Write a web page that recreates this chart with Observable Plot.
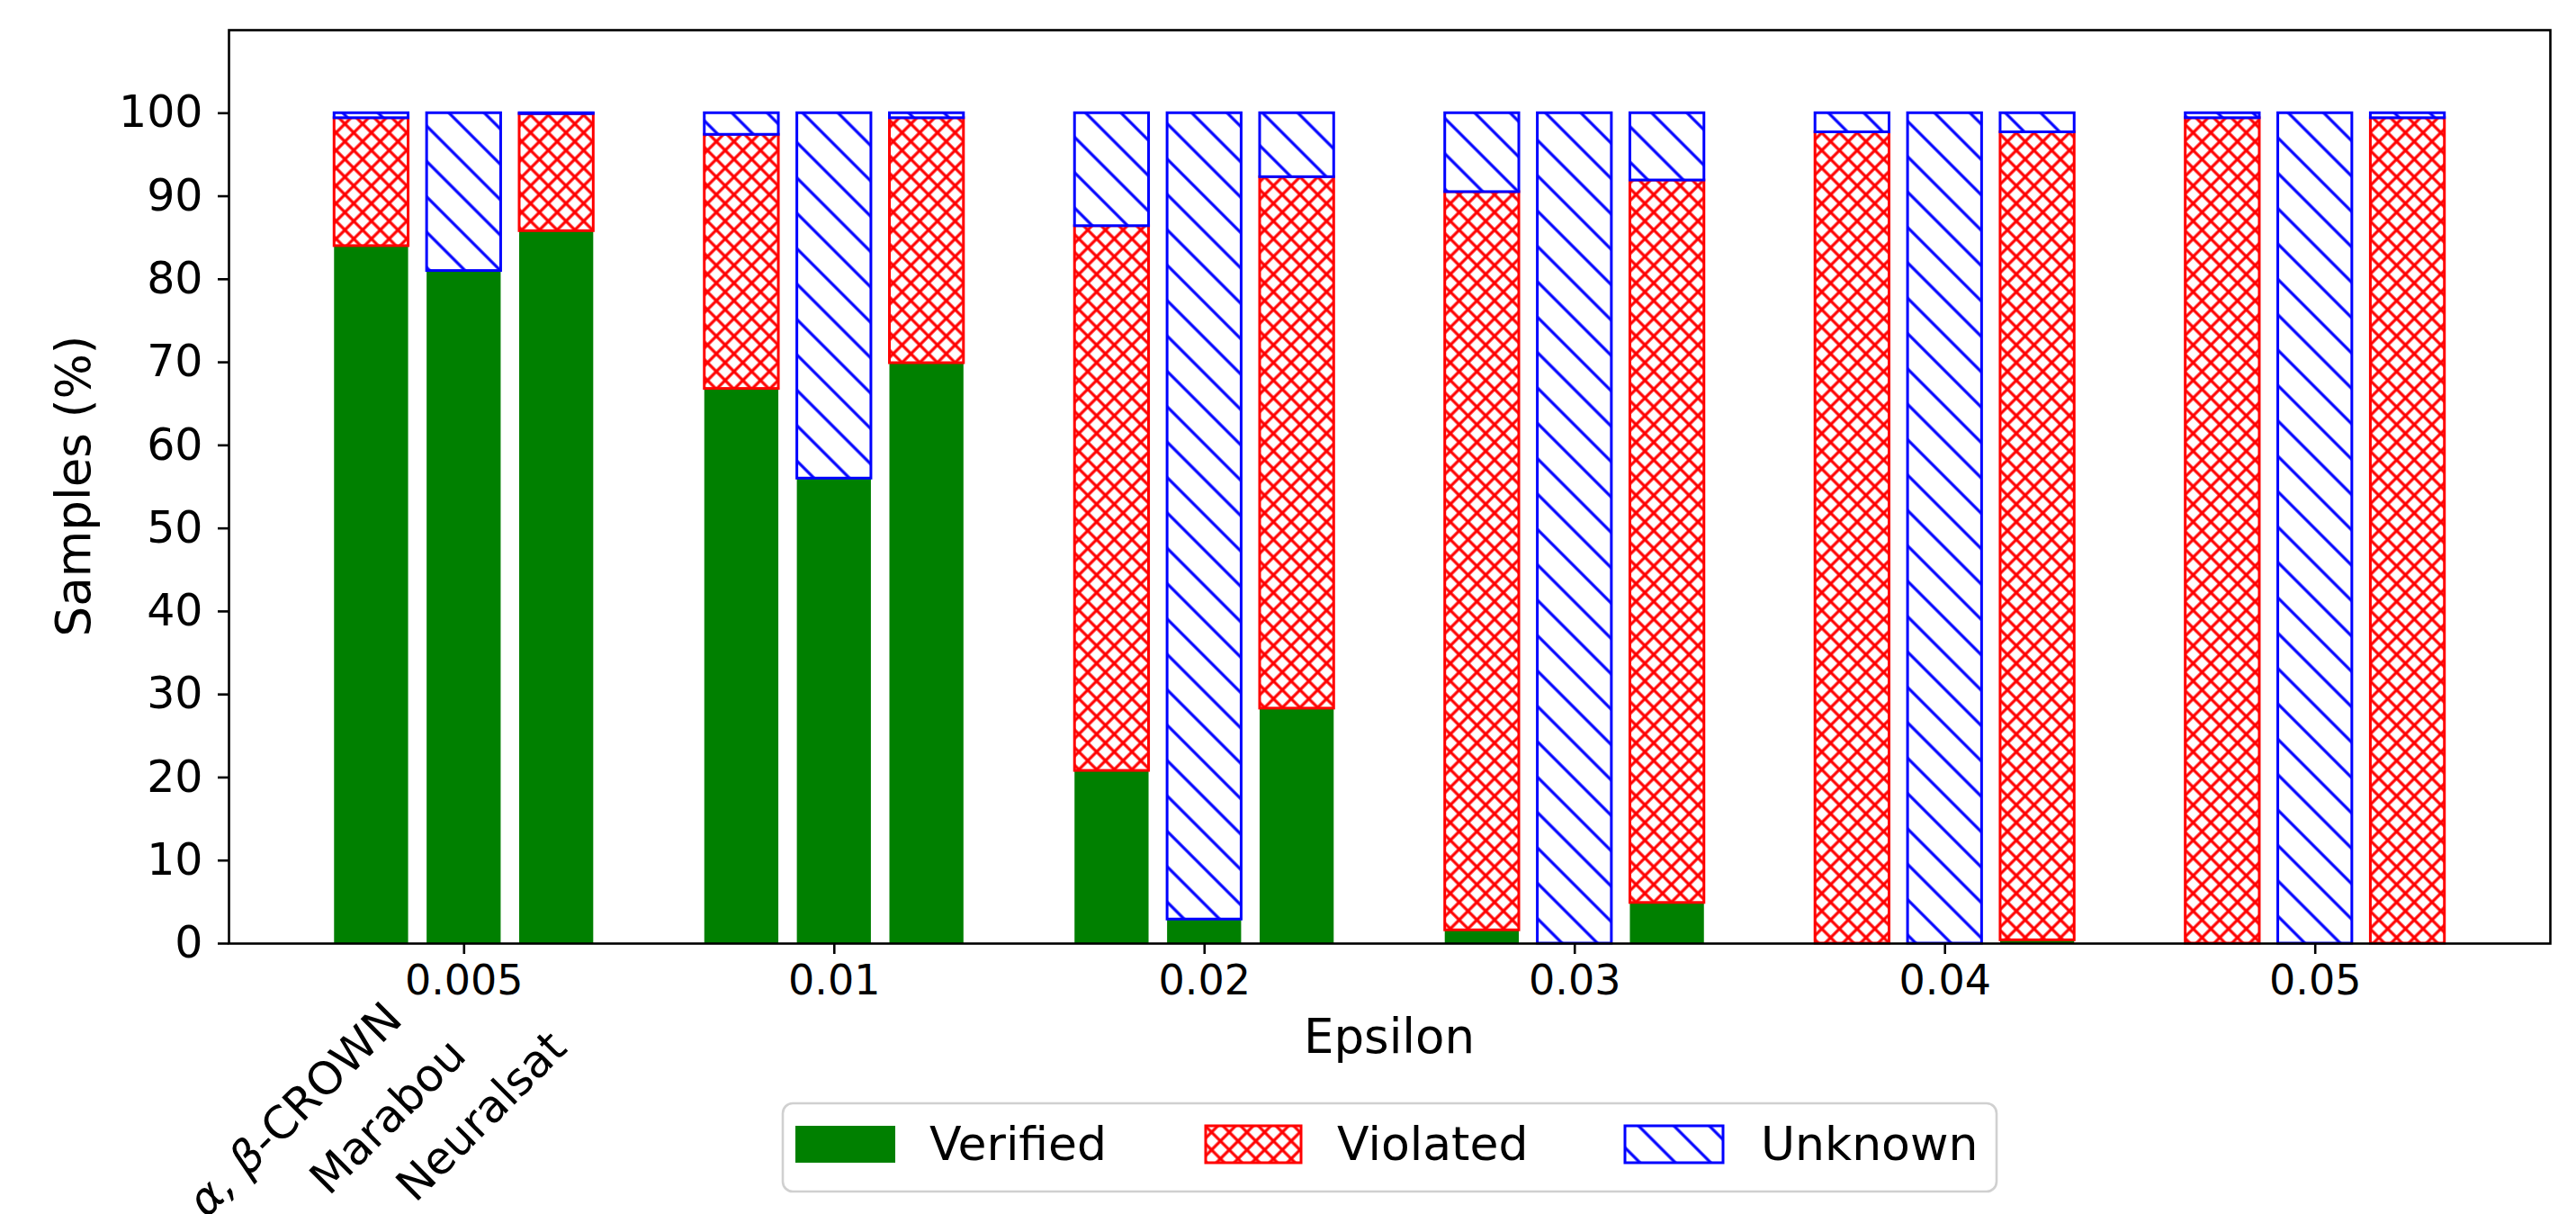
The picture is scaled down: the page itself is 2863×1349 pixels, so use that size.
<!DOCTYPE html>
<html>
<head>
<meta charset="utf-8">
<script src="https://cdn.jsdelivr.net/npm/d3@7"></script>
<script src="https://cdn.jsdelivr.net/npm/@observablehq/plot@0.6"></script>
<style>
  html, body { margin: 0; padding: 0; background: #ffffff; }
  svg { display: block; }
</style>
</head>
<body>
<div id="chart"></div>
<script>
// ---- data (percent of samples) ----
const epsilons = ["0.005", "0.01", "0.02", "0.03", "0.04", "0.05"];
const methods = ["α, β-CROWN", "Marabou", "Neuralsat"];
const statuses = ["Verified", "Violated", "Unknown"];

const verifiedCrown     = [84.0, 66.8, 20.8, 1.6, 0.0, 0.0];
const verifiedMarabou   = [81.0, 56.0, 2.9, 0.0, 0.0, 0.0];
const verifiedNeuralsat = [85.8, 69.9, 28.3, 4.9, 0.4, 0.0];

const violatedCrown     = [15.4, 30.6, 65.6, 88.9, 97.7, 99.4];
const violatedMarabou   = [0.0, 0.0, 0.0, 0.0, 0.0, 0.0];
const violatedNeuralsat = [14.1, 29.5, 64.0, 87.0, 97.3, 99.4];

const unknownCrown      = [0.6, 2.6, 13.6, 9.5, 2.3, 0.6];
const unknownMarabou    = [19.0, 44.0, 97.1, 100.0, 100.0, 100.0];
const unknownNeuralsat  = [0.1, 0.6, 7.7, 8.1, 2.3, 0.6];

const yTicks = [0, 10, 20, 30, 40, 50, 60, 70, 80, 90, 100];

// ---- build stacked segments ----
const seriesByMethod = [
  [verifiedCrown, violatedCrown, unknownCrown],
  [verifiedMarabou, violatedMarabou, unknownMarabou],
  [verifiedNeuralsat, violatedNeuralsat, unknownNeuralsat]
];
const barStep = 0.25, barWidth = 0.2;
const rows = [];
methods.forEach((m, j) => {
  epsilons.forEach((e, i) => {
    let base = 0;
    statuses.forEach((s, k) => {
      const v = seriesByMethod[j][k][i];
      if (v > 0) rows.push({method: m, eps: e, status: s, pos: i + (j - 1) * barStep, y1: base, y2: base + v});
      base += v;
    });
  });
});
const seg = s => rows.filter(d => d.status === s);
const rectOpts = {x1: d => d.pos - barWidth / 2, x2: d => d.pos + barWidth / 2, y1: "y1", y2: "y2"};

const W = 2863, H = 1349;
const plot = Plot.plot({
  width: W,
  height: H,
  marginLeft: 254,
  marginRight: 29,
  marginTop: 33,
  marginBottom: 301,
  style: {fontFamily: "'DejaVu Sans', sans-serif", fontSize: "48px", color: "#000", background: "#fff", overflow: "visible"},
  x: {type: "linear", domain: [-0.635, epsilons.length - 1 + 0.635]},
  y: {domain: [0, 110]},
  marks: [
    Plot.rect(seg("Verified"), {...rectOpts, fill: "#008000"}),
    Plot.rect(seg("Violated"), {...rectOpts, fill: "url(#hatchViolated)", stroke: "#ff0000", strokeWidth: 3}),
    Plot.rect(seg("Unknown"), {...rectOpts, fill: "url(#hatchUnknown)", stroke: "#0000ff", strokeWidth: 3}),
    Plot.frame({stroke: "#000", strokeWidth: 2.6}),
    Plot.axisY({ticks: yTicks, tickSize: 12, tickPadding: 17, fontSize: 49, strokeWidth: 2.6, label: null}),
    Plot.axisX({ticks: d3.range(epsilons.length), tickFormat: i => epsilons[i], tickSize: 12, tickPadding: 12, fontSize: 46, strokeWidth: 2.6, label: null})
  ]
});

const svg = d3.select(plot);
const defs = svg.insert("defs", ":first-child");
// diagonal "\" hatch
const pU = 27.8;
const patU = defs.append("pattern").attr("id", "hatchUnknown").attr("patternUnits", "userSpaceOnUse")
  .attr("width", pU).attr("height", pU).attr("patternTransform", "rotate(45)");
patU.append("rect").attr("width", pU).attr("height", pU).attr("fill", "#fff");
patU.append("line").attr("x1", 0).attr("x2", pU).attr("y1", pU / 2).attr("y2", pU / 2).attr("stroke", "#0000ff").attr("stroke-width", 3.2);
// crosshatch
const pV = 13.9;
const patV = defs.append("pattern").attr("id", "hatchViolated").attr("patternUnits", "userSpaceOnUse")
  .attr("width", pV).attr("height", pV).attr("patternTransform", "rotate(45)");
patV.append("rect").attr("width", pV).attr("height", pV).attr("fill", "#fff");
patV.append("line").attr("x1", 0).attr("x2", pV).attr("y1", pV / 2).attr("y2", pV / 2).attr("stroke", "#ff0000").attr("stroke-width", 3.2);
patV.append("line").attr("y1", 0).attr("y2", pV).attr("x1", pV / 2).attr("x2", pV / 2).attr("stroke", "#ff0000").attr("stroke-width", 3.2);

const xs = plot.scale("x");
const font = "'DejaVu Sans', sans-serif";

// axis labels
svg.append("text").attr("transform", "translate(100,540) rotate(-90)")
  .attr("text-anchor", "middle").attr("font-family", font).attr("font-size", 53).attr("fill", "#000")
  .text("Samples (%)");
svg.append("text").attr("x", (254 + W - 29) / 2).attr("y", 1170)
  .attr("text-anchor", "middle").attr("font-family", font).attr("font-size", 53).attr("fill", "#000")
  .text("Epsilon");

// method labels under the first group
const labelShift = [[37, 1135], [5, 1175], [14, 1167]];
methods.forEach((m, j) => {
  const px = xs.apply((j - 1) * barStep) + labelShift[j][0];
  const py = labelShift[j][1];
  const t = svg.append("text").attr("transform", `translate(${px},${py}) rotate(-45)`)
    .attr("text-anchor", "end").attr("font-family", font).attr("font-size", 50).attr("fill", "#000");
  if (j === 0) {
    t.append("tspan").attr("font-style", "italic").text("α, β");
    t.append("tspan").text("-CROWN");
  } else {
    t.text(m);
  }
});

// legend
const lg = svg.append("g");
lg.append("rect").attr("x", 870).attr("y", 1226).attr("width", 1349).attr("height", 98).attr("rx", 11)
  .attr("fill", "#fff").attr("stroke", "#d0d0d0").attr("stroke-width", 2.6);
const legendItems = [
  {label: statuses[0], px: 884, pw: 111, tx: 1033, fill: "#008000", stroke: "#008000", sw: 0},
  {label: statuses[1], px: 1340, pw: 106, tx: 1486, fill: "url(#hatchViolated)", stroke: "#ff0000", sw: 3},
  {label: statuses[2], px: 1806, pw: 109, tx: 1957, fill: "url(#hatchUnknown)", stroke: "#0000ff", sw: 3}
];
legendItems.forEach(it => {
  lg.append("rect").attr("x", it.px).attr("y", 1251).attr("width", it.pw).attr("height", 41)
    .attr("fill", it.fill).attr("stroke", it.stroke).attr("stroke-width", it.sw);
  lg.append("text").attr("x", it.tx).attr("y", 1289).attr("text-anchor", "start").attr("font-family", font).attr("font-size", 52)
    .attr("fill", "#000").text(it.label);
});

document.getElementById("chart").appendChild(plot);
</script>
</body>
</html>
